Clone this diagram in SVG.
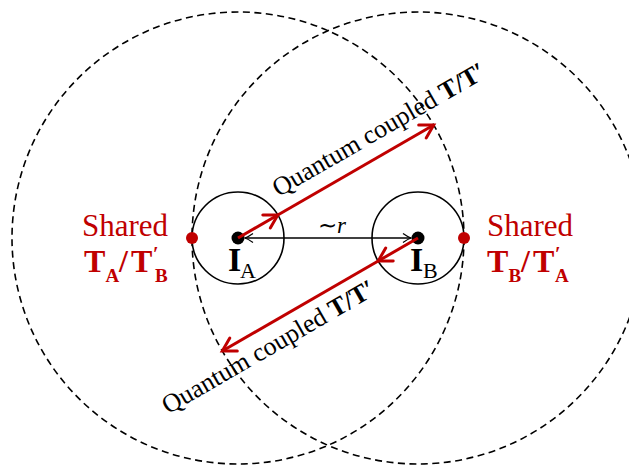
<svg xmlns="http://www.w3.org/2000/svg" width="629" height="467" viewBox="0 0 629 467">
<style>
.big{fill:none;stroke:#000;stroke-width:1.6;stroke-dasharray:7 4.5}
.small{fill:none;stroke:#000;stroke-width:1.6}
.red{stroke:#c00000;stroke-width:3;fill:none}
.blk{stroke:#000;stroke-width:1.3;fill:none}
.serif{font-family:"Liberation Serif","Times New Roman",serif}
.lbl{fill:#c00000}
</style>
<defs>
<marker id="ra" markerUnits="userSpaceOnUse" markerWidth="20" markerHeight="20" refX="0" refY="0" orient="auto" overflow="visible">
<path d="M-13,-7.5 L0,0 L-13,7.5" fill="none" stroke="#c00000" stroke-width="3" stroke-linecap="round" stroke-linejoin="miter"/>
</marker>
<marker id="ba" markerUnits="userSpaceOnUse" markerWidth="12" markerHeight="12" refX="0" refY="0" orient="auto-start-reverse" overflow="visible">
<path d="M-8,-4.5 Q-3,-1 0,0 Q-3,1 -8,4.5" fill="none" stroke="#000" stroke-width="1.3"/>
</marker>
</defs>
<g id="circles">
<circle class="big" cx="238" cy="238" r="226"/>
<circle class="big" cx="418" cy="238" r="226"/>
</g>
<g id="IA">
<circle class="small" cx="238" cy="238" r="46"/>
<circle cx="238" cy="238" r="6.5" fill="#000"/>
<text class="serif" x="228" y="271" font-size="34" font-weight="bold">I</text>
<text class="serif" x="240" y="278" font-size="22">A</text>
</g>
<g id="IB">
<circle class="small" cx="418" cy="238" r="46"/>
<circle cx="418" cy="238" r="6.5" fill="#000"/>
<text class="serif" x="410" y="271" font-size="34" font-weight="bold">I</text>
<text class="serif" x="423" y="278" font-size="22">B</text>
</g>
<g id="sharedA">
<circle cx="192" cy="238" r="6" fill="#c00000"/>
<text class="serif lbl" x="82" y="236" font-size="31">Shared</text>
<text class="serif lbl" font-weight="bold"><tspan x="84" y="272" font-size="32">T</tspan><tspan x="105.5" y="282" font-size="19">A</tspan><tspan x="119" y="272" font-size="32">/</tspan><tspan x="131" y="272" font-size="32">T</tspan><tspan x="153" y="260.5" font-size="20">′</tspan><tspan x="155" y="282" font-size="19">B</tspan></text>
</g>
<g id="sharedB">
<circle cx="464" cy="238" r="6" fill="#c00000"/>
<text class="serif lbl" x="487" y="236" font-size="31">Shared</text>
<text class="serif lbl" font-weight="bold"><tspan x="487" y="272" font-size="32">T</tspan><tspan x="508.5" y="282" font-size="19">B</tspan><tspan x="521" y="272" font-size="32">/</tspan><tspan x="533" y="272" font-size="32">T</tspan><tspan x="555" y="260.5" font-size="20">′</tspan><tspan x="555" y="282" font-size="19">A</tspan></text>
</g>
<g id="connectors">
<line class="blk" x1="245" y1="238" x2="411" y2="238" marker-start="url(#ba)" marker-end="url(#ba)"/>
<text class="serif" x="318" y="233" font-size="23">∼<tspan font-style="italic">r</tspan></text>
<line class="red" x1="238" y1="238" x2="277.8" y2="215" marker-end="url(#ra)"/>
<line class="red" x1="277.8" y1="215" x2="433.7" y2="125" marker-end="url(#ra)"/>
<line class="red" x1="418" y1="238" x2="378.2" y2="261" marker-end="url(#ra)"/>
<line class="red" x1="378.2" y1="261" x2="222.3" y2="351" marker-end="url(#ra)"/>
<text class="serif" font-size="26" transform="translate(278.6,197.2) rotate(-30)">Quantum coupled <tspan font-weight="bold">T/T′</tspan></text>
<text class="serif" font-size="26" transform="translate(168,414.6) rotate(-30)">Quantum coupled <tspan font-weight="bold">T/T′</tspan></text>
</g>
</svg>
